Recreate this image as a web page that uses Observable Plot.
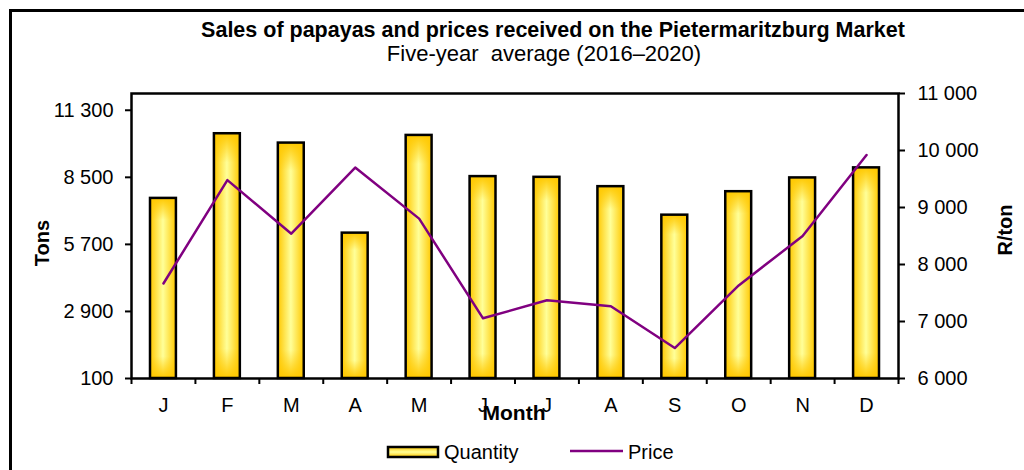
<!DOCTYPE html>
<html>
<head>
<meta charset="utf-8">
<script src="https://cdn.jsdelivr.net/npm/d3@7"></script>
<script src="https://cdn.jsdelivr.net/npm/@observablehq/plot@0.6"></script>
<style>
  html, body { margin: 0; padding: 0; background: #fff; overflow: hidden; }
  #wrap { position: relative; width: 1024px; height: 470px; font-family: "Liberation Sans", Arial, sans-serif; color: #000; }
  #border { position: absolute; left: 9px; top: 9px; width: 1100px; height: 600px; border-left: 3px solid #000; border-top: 3px solid #000; }
  .abs { position: absolute; white-space: pre; line-height: 1; }
  #title { left: 0; width: 1106px; top: 20px; text-align: center; font-weight: bold; font-size: 21.5px; }
  #subtitle { left: 0; width: 1088px; top: 43px; text-align: center; font-size: 22px; }
  #month { left: 0; width: 1028px; top: 402px; text-align: center; font-weight: bold; font-size: 21px; }
  .rot { transform: translate(-50%, -50%) rotate(-90deg); font-weight: bold; font-size: 20px; }
  #legend { position: absolute; top: 440px; left: 386px; height: 24px; font-size: 20px; }
  #chart { position: absolute; left: 0; top: 0; }
</style>
</head>
<body>
<div id="wrap">
  <div id="border"></div>
  <div id="chart"></div>
  <div id="title" class="abs">Sales of papayas and prices received on the Pietermaritzburg Market</div>
  <div id="subtitle" class="abs">Five-year  average (2016–2020)</div>
  <div id="month" class="abs">Month</div>
  <div class="abs rot" style="left:42px; top:243px;">Tons</div>
  <div class="abs rot" style="left:1005px; top:230px;">R/ton</div>
  <div id="legend"></div>
</div>
<script>
const months = ["J","F","M","A","M","J","J","A","S","O","N","D"];
const quantity = [7620, 10320, 9930, 6170, 10250, 8530, 8500, 8110, 6920, 7900, 8475, 8895];
const price = [7667, 9480, 8540, 9700, 8805, 7056, 7373, 7268, 6534, 7632, 8500, 9920];
const tonsTicks = [100, 2900, 5700, 8500, 11300];
const priceTicks = [6000, 7000, 8000, 9000, 10000, 11000];
const tonsDomain = [100, 12000];
const priceDomain = [6000, 11000];

const fmt = v => d3.format(",")(Math.round(v)).replace(/,/g, " ");
const toY = p => tonsDomain[0] + (p - priceDomain[0]) / (priceDomain[1] - priceDomain[0]) * (tonsDomain[1] - tonsDomain[0]);
const fromY = y => priceDomain[0] + (y - tonsDomain[0]) / (tonsDomain[1] - tonsDomain[0]) * (priceDomain[1] - priceDomain[0]);

const data = months.map((m, i) => ({i, month: m, q: quantity[i], p: price[i]}));

function defs() {
  const d = d3.create("svg:defs");
  const h = d.append("linearGradient").attr("id", "barGradH").attr("x1", 0).attr("x2", 1).attr("y1", 0).attr("y2", 0);
  h.append("stop").attr("offset", "0%").attr("stop-color", "#FFC800");
  h.append("stop").attr("offset", "50%").attr("stop-color", "#FFFF99");
  h.append("stop").attr("offset", "100%").attr("stop-color", "#FFC800");
  const v = d.append("linearGradient").attr("id", "barGradV").attr("x1", 0).attr("x2", 0).attr("y1", 0).attr("y2", 1);
  v.append("stop").attr("offset", "0%").attr("stop-color", "#FFC800").attr("stop-opacity", 1);
  v.append("stop").attr("offset", "12%").attr("stop-color", "#FFC800").attr("stop-opacity", 0);
  v.append("stop").attr("offset", "88%").attr("stop-color", "#FFC800").attr("stop-opacity", 0);
  v.append("stop").attr("offset", "100%").attr("stop-color", "#FFC800").attr("stop-opacity", 1);
  return d.node();
}

const chart = Plot.plot({
  width: 1024,
  height: 470,
  marginLeft: 131,
  marginRight: 126,
  marginTop: 93,
  marginBottom: 92,
  style: {fontFamily: "'Liberation Sans', Arial, sans-serif", fontSize: "20px", color: "#000", background: "transparent", overflow: "visible"},
  x: {domain: [0, 12]},
  y: {domain: tonsDomain},
  marks: [
    defs,
    Plot.rectY(data, {x1: "i", x2: d => d.i + 1, y1: tonsDomain[0], y2: "q", insetLeft: 19, insetRight: 19, fill: "url(#barGradH)"}),
    Plot.rectY(data, {x1: "i", x2: d => d.i + 1, y1: tonsDomain[0], y2: "q", insetLeft: 19, insetRight: 19, fill: "url(#barGradV)", stroke: "#000", strokeWidth: 2.5}),
    Plot.line(data, {x: d => d.i + 0.5, y: d => toY(d.p), stroke: "#800080", strokeWidth: 2.5}),
    Plot.frame({stroke: "#000", strokeWidth: 2.5}),
    Plot.axisY(tonsTicks, {anchor: "left", tickSize: 6, tickPadding: 12, tickFormat: fmt, strokeWidth: 2, label: null}),
    Plot.axisY(priceTicks.map(toY), {anchor: "right", tickSize: 6, tickPadding: 13, tickFormat: y => fmt(fromY(y)), strokeWidth: 2, label: null}),
    Plot.axisX(d3.range(13), {anchor: "bottom", tickSize: 6, tickFormat: () => "", strokeWidth: 2, label: null}),
    Plot.axisX(d3.range(12).map(i => i + 0.5), {anchor: "bottom", tickSize: 0, tickPadding: 19, tickFormat: d => months[Math.floor(d)], label: null})
  ]
});
document.getElementById("chart").appendChild(chart);

// legend
const lg = d3.select("#legend");
const sw = lg.append("svg").attr("width", 260).attr("height", 24).style("position", "absolute").style("left", 0).style("top", 0);
const sd = sw.append("defs");
const g = sd.append("linearGradient").attr("id", "legGrad").attr("x1", 0).attr("x2", 0).attr("y1", 0).attr("y2", 1);
g.append("stop").attr("offset", "0%").attr("stop-color", "#FFC800");
g.append("stop").attr("offset", "50%").attr("stop-color", "#FFFF99");
g.append("stop").attr("offset", "100%").attr("stop-color", "#FFC800");
sw.append("rect").attr("x", 2).attr("y", 7).attr("width", 50).attr("height", 10).attr("fill", "url(#legGrad)").attr("stroke", "#000").attr("stroke-width", 2.5);
sw.append("line").attr("x1", 184).attr("x2", 237).attr("y1", 11).attr("y2", 11).attr("stroke", "#800080").attr("stroke-width", 2.5);
lg.append("div").attr("class", "abs").style("left", "58px").style("top", "2px").text("Quantity");
lg.append("div").attr("class", "abs").style("left", "242px").style("top", "2px").text("Price");
</script>
</body>
</html>
